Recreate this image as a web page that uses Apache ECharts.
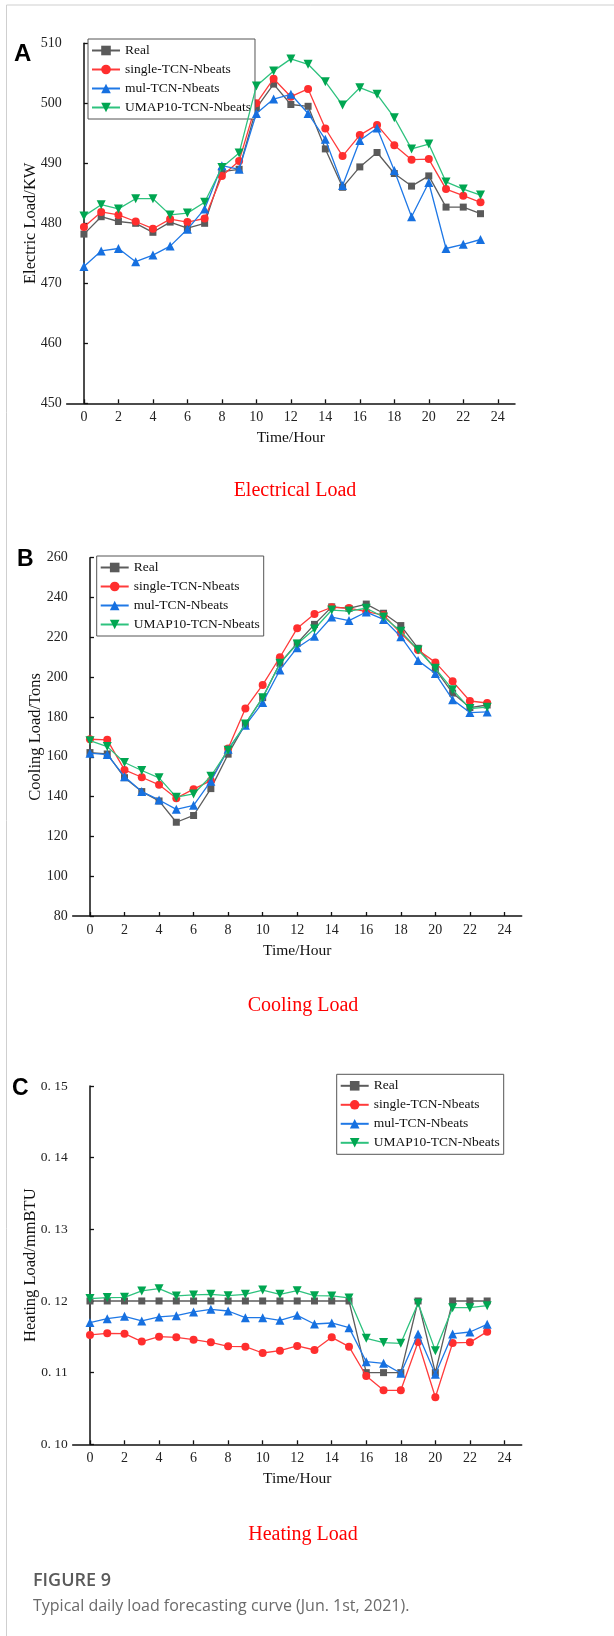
<!DOCTYPE html>
<html><head><meta charset="utf-8">
<script src="https://cdn.jsdelivr.net/npm/echarts@6/dist/echarts.min.js"></script>
<style>html,body{margin:0;padding:0;background:#fff}#c{width:614px;height:1636px}</style>
</head><body><div id="c"></div>
<script>
const hours = [0,1,2,3,4,5,6,7,8,9,10,11,12,13,14,15,16,17,18,19,20,21,22,23];
const xTicks = [0,2,4,6,8,10,12,14,16,18,20,22,24];
const seriesNames = ['Real','single-TCN-Nbeats','mul-TCN-Nbeats','UMAP10-TCN-Nbeats'];

// Panel A: Electrical load (KW)
const elecReal   = [478.2,481.1,480.3,480.0,478.5,480.2,479.2,480.0,488.6,489.0,499.2,503.2,499.8,499.5,492.4,486.0,489.4,491.8,488.3,486.2,487.9,482.7,482.7,481.6];
const elecSingle = [479.4,481.9,481.4,480.3,479.1,480.7,480.2,480.8,487.9,490.4,500.0,504.1,501.1,502.4,495.8,491.2,494.7,496.4,493.0,490.6,490.7,485.7,484.6,483.5];
const elecMul    = [472.8,475.4,475.8,473.6,474.7,476.2,479.0,482.4,489.6,489.0,498.3,500.7,501.5,498.3,494.0,486.3,493.8,495.9,488.8,481.1,486.8,475.8,476.5,477.3];
const elecUmap   = [481.2,483.1,482.4,484.1,484.1,481.4,481.7,483.5,489.3,491.7,502.9,505.4,507.4,506.5,503.6,499.7,502.6,501.5,497.6,492.4,493.2,486.9,485.7,484.7];

// Panel B: Cooling load (Tons)
const coolReal   = [162.1,161.4,149.5,142.5,137.8,127.1,130.5,144.0,161.3,176.5,189.7,207.0,217.0,226.5,235.3,234.5,236.7,232.1,225.9,214.5,204.0,192.0,184.7,186.0];
const coolSingle = [168.8,168.5,153.4,149.7,145.9,139.2,143.7,148.0,164.1,184.2,196.1,210.0,224.5,231.7,235.1,234.7,232.9,231.2,222.0,213.6,207.4,197.9,188.0,187.0];
const coolMul    = [161.8,161.1,150.0,142.5,138.3,133.6,135.6,147.7,163.8,175.8,187.2,203.6,214.8,220.5,230.2,228.4,232.7,229.0,220.3,208.3,201.8,188.7,182.2,182.5];
const coolUmap   = [168.1,165.1,157.1,153.1,149.4,139.7,141.3,150.2,163.3,176.5,189.7,207.0,216.7,224.2,233.7,233.2,234.6,230.2,223.0,213.6,204.4,193.7,184.2,184.9];

// Panel C: Heating load (mmBTU)
const heatReal   = [0.120,0.120,0.120,0.120,0.120,0.120,0.120,0.120,0.120,0.120,0.120,0.120,0.120,0.120,0.120,0.120,0.110,0.110,0.110,0.120,0.110,0.120,0.120,0.120];
const heatSingle = [0.11526,0.11549,0.11544,0.11433,0.11502,0.11493,0.11460,0.11423,0.11367,0.11363,0.11274,0.11307,0.11372,0.11316,0.11493,0.11363,0.10953,0.10753,0.10753,0.11428,0.10656,0.11414,0.11423,0.11572];
const heatMul    = [0.11698,0.11753,0.11786,0.11721,0.11777,0.11795,0.11847,0.11884,0.11860,0.11767,0.11767,0.11730,0.11800,0.11679,0.11693,0.11628,0.11153,0.11130,0.10991,0.11540,0.10977,0.11540,0.11567,0.11674];
const heatUmap   = [0.12033,0.12047,0.12051,0.12140,0.12172,0.12070,0.12084,0.12093,0.12074,0.12093,0.12153,0.12093,0.12144,0.12074,0.12070,0.12042,0.11479,0.11419,0.11409,0.11967,0.11307,0.11907,0.11907,0.11935];

const styles = [
  {line:'#5c5c5c', item:'#5a5a5a', symbol:'rect', size:7},
  {line:'#ff3b3b', item:'#ff2e2e', symbol:'circle', size:8},
  {line:'#1f78e6', item:'#1670e0', symbol:'triangle', size:9},
  {line:'#2ec27e', item:'#00a651', symbol:'path://M0,0 L10,0 L5,9 Z', size:9}
];

const SERIF = '"Liberation Serif","Times New Roman",serif';

function mk(gi, arrs){
  return arrs.map((a,i)=>({
    name: seriesNames[i], type:'line', xAxisIndex:gi, yAxisIndex:gi,
    data: hours.map((h,k)=>[h,a[k]]),
    symbol: styles[i].symbol, symbolSize: styles[i].size,
    showAllSymbol:true,
    lineStyle:{color:styles[i].line, width:1.3},
    itemStyle:{color:styles[i].item},
    emphasis:{disabled:true}, animation:false, z: 2+i
  }));
}

const grids = [
  {left:66.7, top:43.3, width:448.3, height:360},
  {left:72.7, top:557.7, width:449, height:358.3},
  {left:72.7, top:1086, width:449, height:358.3}
];

function xAx(gi){
  return {gridIndex:gi, type:'value', min:-1, max:25,
    name:'Time/Hour', nameLocation:'middle', nameGap:27, nameMoveOverlap:false,
    nameTextStyle:{fontFamily:SERIF, fontSize:15.5, color:'#111'},
    axisLine:{lineStyle:{color:'#111', width:1.5}},
    axisTick:{inside:true, length:4, customValues:xTicks, lineStyle:{color:'#111', width:1.3}},
    axisLabel:{customValues:xTicks, fontFamily:SERIF, fontSize:14, color:'#222', margin:7},
    splitLine:{show:false}};
}
function yAx(gi, min, max, interval, name, gap, fs, fmt){
  return {gridIndex:gi, type:'value', min:min, max:max, interval:interval,
    name:name, nameLocation:'middle', nameGap:gap, nameMoveOverlap:false,
    nameTextStyle:{fontFamily:SERIF, fontSize:16.5, color:'#111'},
    axisLine:{show:true, lineStyle:{color:'#111', width:1.5}},
    axisTick:{show:true, inside:true, length:4, lineStyle:{color:'#111', width:1.3}},
    axisLabel:{fontFamily:SERIF, fontSize:fs, color:'#222', margin:5, formatter:fmt},
    splitLine:{show:false}};
}

function lg(left, top){
  return {left:left, top:top, orient:'vertical', data:seriesNames,
    itemWidth:28, itemHeight:12, itemGap:2,
    padding:[3,4,3,3], backgroundColor:'#fff',
    borderColor:'#555', borderWidth:1, borderRadius:0,
    selectedMode:false,
    textStyle:{fontFamily:SERIF, fontSize:13.5, color:'#111', lineHeight:17}};
}

const chart = echarts.init(document.getElementById('c'), null, {renderer:'canvas'});
chart.setOption({
  animation:false,
  backgroundColor:'#fff',
  grid: grids,
  xAxis:[xAx(0), xAx(1), xAx(2)],
  yAxis:[
    yAx(0,450,510,10,'Electric Load/KW',28,14),
    yAx(1,80,260,20,'Cooling Load/Tons',29,14),
    yAx(2,0.10,0.15,0.01,'Heating Load/mmBTU',34,13.5, v=>v.toFixed(2).replace('.', '. '))
  ],
  legend:[lg(88,39), lg(96.7,556), lg(336.7,1074.3)],
  title:[
    {text:'Electrical Load', left:290, top:476, textAlign:'center', textStyle:{fontFamily:SERIF, fontSize:20, fontWeight:'normal', color:'#ff0000'}},
    {text:'Cooling Load', left:298, top:991, textAlign:'center', textStyle:{fontFamily:SERIF, fontSize:20, fontWeight:'normal', color:'#ff0000'}},
    {text:'Heating Load', left:298, top:1520, textAlign:'center', textStyle:{fontFamily:SERIF, fontSize:20, fontWeight:'normal', color:'#ff0000'}}
  ],
  graphic:[
    {type:'line', shape:{x1:6.5, y1:5, x2:614, y2:5}, style:{stroke:'#cfcfcf', lineWidth:1}, silent:true},
    {type:'line', shape:{x1:6.5, y1:5, x2:6.5, y2:1636}, style:{stroke:'#cfcfcf', lineWidth:1}, silent:true},
    {type:'text', left:14, top:42, style:{text:'A', font:'bold 24px "Liberation Sans", Arial, sans-serif', fill:'#000'}},
    {type:'text', left:17, top:548, style:{text:'B', font:'bold 23px "Liberation Sans", Arial, sans-serif', fill:'#000'}},
    {type:'text', left:12, top:1077, style:{text:'C', font:'bold 23px "Liberation Sans", Arial, sans-serif', fill:'#000'}},
    {type:'text', left:33, top:1572, style:{text:'FIGURE 9', font:'600 18px "Open Sans", "Noto Sans", sans-serif', fill:'#5a5a5a'}},
    {type:'text', left:33, top:1598, style:{text:'Typical daily load forecasting curve (Jun. 1st, 2021).', font:'16px "Open Sans", "Noto Sans", sans-serif', fill:'#6a6a6a'}}
  ],
  series:[].concat(
    mk(0,[elecReal,elecSingle,elecMul,elecUmap]),
    mk(1,[coolReal,coolSingle,coolMul,coolUmap]),
    mk(2,[heatReal,heatSingle,heatMul,heatUmap])
  )
});
</script></body></html>
